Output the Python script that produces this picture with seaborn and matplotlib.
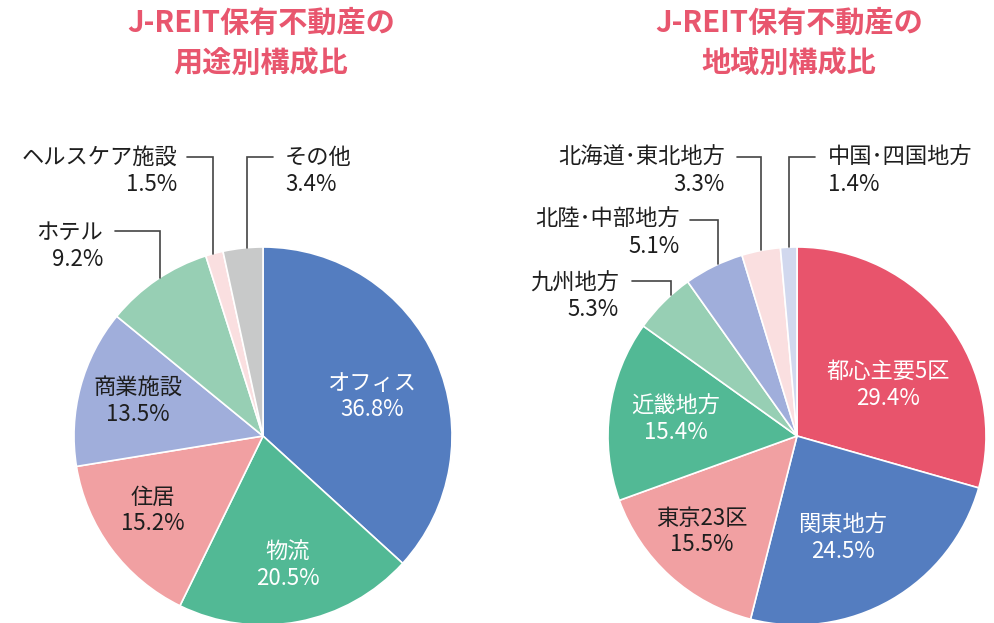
import numpy as np
import matplotlib
matplotlib.use("Agg")
import matplotlib.pyplot as plt
import seaborn as sns

# ---------------- data ----------------
use_labels = ["オフィス", "物流", "住居", "商業施設", "ホテル", "ヘルスケア施設", "その他"]
use_values = [36.8, 20.5, 15.2, 13.5, 9.2, 1.5, 3.4]

region_labels = ["都心主要5区", "関東地方", "東京23区", "近畿地方", "九州地方",
                 "北陸･中部地方", "北海道･東北地方", "中国･四国地方"]
region_values = [29.4, 24.5, 15.5, 15.4, 5.3, 5.1, 3.3, 1.4]

title_left = ["J-REIT保有不動産の", "用途別構成比"]
title_right = ["J-REIT保有不動産の", "地域別構成比"]

# ---------------- style ----------------
sns.set_theme(style="white")
plt.rcParams["font.family"] = ["Noto Sans CJK JP", "DejaVu Sans"]

BLUE = "#547dc0"
GREEN = "#52b995"
PINK = "#f1a0a2"
LAV = "#a0aedb"
LGREEN = "#97cfb4"
LPINK = "#fadfe0"
GRAY = "#c8c9c9"
RED = "#e8546c"
LLAV = "#d1d8ee"
TITLE = "#e8566e"
TXT = "#1e1e1e"
LINE = "#444444"

use_colors = [BLUE, GREEN, PINK, LAV, LGREEN, LPINK, GRAY]
region_colors = [RED, BLUE, PINK, GREEN, LGREEN, LAV, LPINK, LLAV]

W, H = 995, 623
fig = plt.figure(figsize=(W / 100, H / 100), dpi=100)
fig.patch.set_facecolor("white")

R = 189
centers = [(263, 436), (797, 436)]

overlay = fig.add_axes([0, 0, 1, 1], zorder=5)
overlay.set_xlim(0, W)
overlay.set_ylim(H, 0)
overlay.axis("off")
overlay.patch.set_alpha(0)

FS = 16


def make_pie(center, values, colors):
    cx, cy = center
    ax = fig.add_axes([(cx - R) / W, (H - cy - R) / H, 2 * R / W, 2 * R / H])
    wedges, _ = ax.pie(values, colors=colors, startangle=90, counterclock=False,
                       radius=1, wedgeprops=dict(edgecolor="white", linewidth=1.2))
    ax.set_xlim(-1, 1)
    ax.set_ylim(-1, 1)
    ax.set_aspect("equal")
    ax.axis("off")
    return wedges


def inner_labels(center, wedges, labels, values, specs):
    cx, cy = center
    for i, (r, off, col) in specs.items():
        w = wedges[i]
        mid = np.deg2rad((w.theta1 + w.theta2) / 2 + off)
        x = cx + r * R * np.cos(mid)
        y = cy - r * R * np.sin(mid)
        overlay.text(x, y, f"{labels[i]}\n{values[i]:.1f}%", ha="center", va="center",
                     fontsize=FS, color=col, linespacing=1.2)


def outer_label(center, label, value, tx, ty, ha, lx0, lx1, ly):
    cx, cy = center
    overlay.text(tx, ty, f"{label}\n{value:.1f}%", ha=ha, va="center",
                 fontsize=FS, color=TXT, linespacing=1.2)
    dx = (lx1 - cx) / R
    yedge = cy - R * np.sqrt(max(0.0, 1 - dx * dx))
    overlay.plot([lx0, lx1, lx1], [ly, ly, yedge], color=LINE, lw=1.2,
                 solid_joinstyle="miter")


# left pie
wl = make_pie(centers[0], use_values, use_colors)
inner_labels(centers[0], wl, use_labels, use_values, {
    0: (0.613, -3.9, "white"),
    1: (0.697, 0.0, "white"),
    2: (0.702, -2.4, TXT),
    3: (0.688, -0.6, TXT),
})
outer_label(centers[0], use_labels[5], use_values[5], 177, 171, "right", 187, 213, 157)
outer_label(centers[0], use_labels[6], use_values[6], 285, 171, "left", 273, 247, 157)
outer_label(centers[0], use_labels[4], use_values[4], 103, 246, "right", 115, 160, 231)

# right pie
wr = make_pie(centers[1], region_values, region_colors)
inner_labels(centers[1], wr, region_labels, region_values, {
    0: (0.552, -7.7, "white"),
    1: (0.594, -5.8, "white"),
    2: (0.713, -2.7, TXT),
    3: (0.648, 0.0, "white"),
})
outer_label(centers[1], region_labels[6], region_values[6], 725, 171, "right", 737, 761, 157)
outer_label(centers[1], region_labels[7], region_values[7], 828, 171, "left", 815, 789, 157)
outer_label(centers[1], region_labels[5], region_values[5], 680, 233, "right", 690, 718, 220)
outer_label(centers[1], region_labels[4], region_values[4], 619, 296, "right", 632, 671, 281)

# titles
for cx, lines in zip([261, 789], [title_left, title_right]):
    overlay.text(cx, 23, lines[0], ha="center", va="center", fontsize=21,
                 fontweight="bold", color=TITLE)
    overlay.text(cx, 63, lines[1], ha="center", va="center", fontsize=21,
                 fontweight="bold", color=TITLE)

fig.savefig("out.png", dpi=100, facecolor="white")
